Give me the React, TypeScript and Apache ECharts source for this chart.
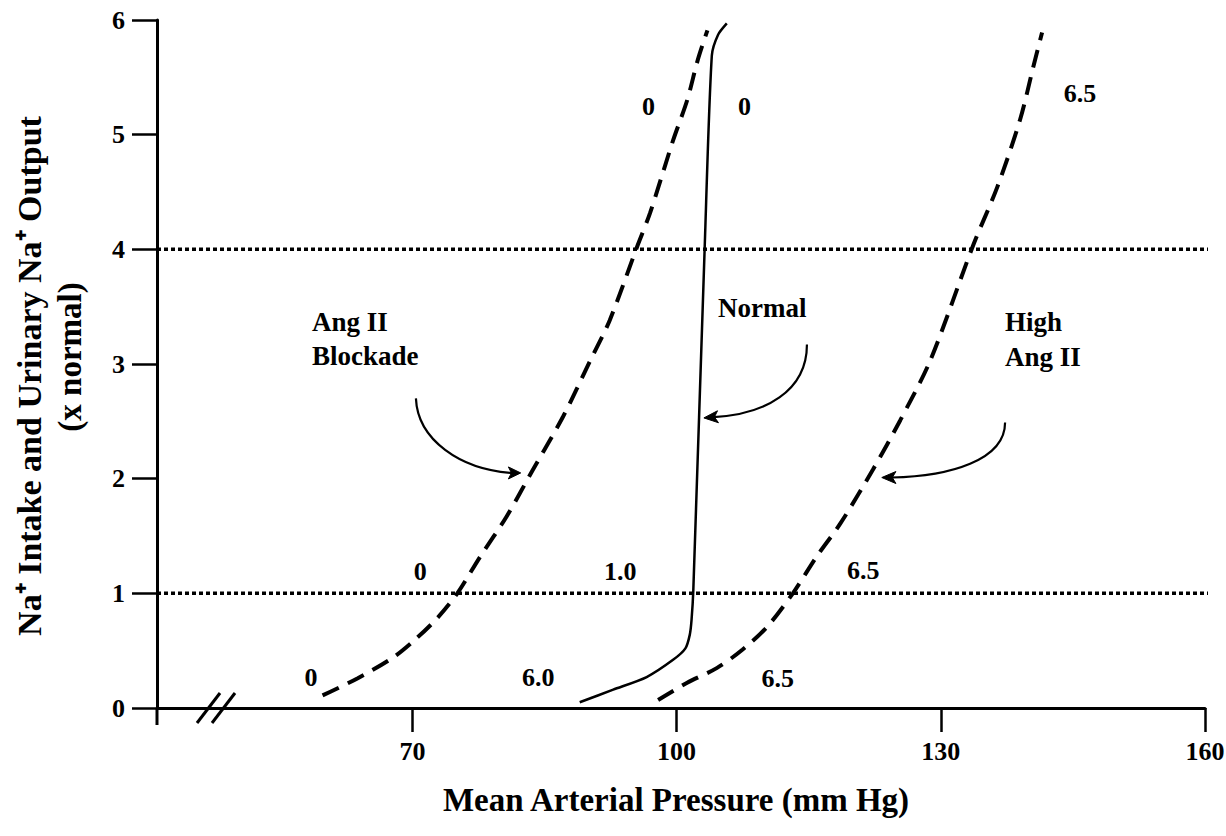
import React, { useEffect, useRef } from 'react';
import * as echarts from 'echarts';

const FONT = '"Liberation Serif", "Times New Roman", Times, serif';

// Axis ranges and ticks
const xMin = 41;
const xMax = 160;
const xTicks = [70, 100, 130, 160];
const yTicksMax = 6;
const refLevels = [1, 4];

// Curves: [mean arterial pressure, Na+ intake / output (x normal)]
const angBlockade = [
  [59.8, 0.11], [63.8, 0.26], [67.8, 0.44], [70.5, 0.61], [72.9, 0.79], [75.1, 1.0],
  [77.7, 1.32], [80.7, 1.67], [83.7, 2.08], [87.1, 2.54], [90.2, 3.03], [92.4, 3.38],
  [95.6, 4.04], [97.0, 4.32], [99.6, 4.95], [101.2, 5.3], [102.4, 5.65], [103.5, 5.91],
];
const normalCurve = [
  [89.0, 0.05], [92.8, 0.16], [96.6, 0.27], [99.6, 0.42], [101.0, 0.52], [101.5, 0.64],
  [101.7, 0.77], [101.9, 1.03], [103.2, 4.04], [104.0, 5.69], [104.7, 5.87], [105.7, 5.97],
];
const highAngII = [
  [97.9, 0.07], [101.2, 0.22], [104.6, 0.35], [107.5, 0.51], [110.3, 0.71], [113.2, 1.0],
  [115.9, 1.32], [118.6, 1.61], [122.3, 2.08], [125.4, 2.51], [128.8, 3.03], [133.7, 4.04],
  [136.4, 4.54], [139.0, 5.13], [140.5, 5.59], [141.5, 5.89],
];

// Value annotations next to the curves
const valueTexts = ['0', '6.0', '0', '1.0', '6.5', '6.5', '0', '0', '6.5'];
const valuePos = [
  [58.5, 0.27], [84.3, 0.27], [70.9, 1.19], [93.6, 1.19], [121.2, 1.2],
  [111.5, 0.26], [96.8, 5.25], [107.7, 5.25], [145.8, 5.36],
];

// Curve names
const nameTexts = ['Ang II', 'Blockade', 'Normal', 'High', 'Ang II'];
const namePos = [[58.6, 3.37], [58.6, 3.07], [104.7, 3.49], [137.3, 3.37], [137.3, 3.06]];

// Curved arrows: start, control 1, control 2, end (head base), tip
const arrows = [
  [70.4, 2.7, 70.6, 2.34, 75.4, 2.08, 80.9, 2.05, 82.3, 2.05],
  [114.8, 3.17, 114.8, 2.76, 110.0, 2.56, 104.7, 2.54, 103.1, 2.53],
  [137.3, 2.49, 137.3, 2.16, 131.0, 2.02, 124.9, 2.01, 123.3, 2.01],
];

const breakAt = [[47.7, 0]];

const xTitle = 'Mean Arterial Pressure (mm Hg)';
const yTitle1 = 'Na\u207A Intake and Urinary Na\u207A Output';
const yTitle2 = '(x normal)';

export default function App() {
  const ref = useRef<HTMLDivElement>(null);

  useEffect(() => {
    document.body.style.margin = '0';
    const chart = echarts.init(ref.current as HTMLDivElement, undefined, { renderer: 'svg' });

    const dashed = { color: '#000', width: 4, type: [18, 10] as any };

    const option: any = {
      animation: false,
      backgroundColor: '#fff',
      grid: {
        left: 157,
        right: 21,
        top: 20,
        bottom: 128,
        containLabel: false,
        outerBoundsMode: 'none',
      },
      xAxis: {
        type: 'value',
        min: xMin,
        max: xMax,
        axisLine: { show: true, onZero: false, lineStyle: { color: '#000', width: 3 } },
        axisTick: {
          show: true,
          customValues: xTicks,
          length: 24,
          inside: false,
          lineStyle: { color: '#000', width: 2.5 },
        },
        axisLabel: {
          customValues: xTicks,
          margin: 30,
          color: '#000',
          fontSize: 26,
          fontWeight: 'bold',
          fontFamily: FONT,
        },
        splitLine: { show: false },
      },
      yAxis: {
        type: 'value',
        min: 0,
        max: yTicksMax,
        interval: 1,
        axisLine: { show: true, onZero: false, lineStyle: { color: '#000', width: 3 } },
        axisTick: { show: true, length: 25, lineStyle: { color: '#000', width: 2.5 } },
        axisLabel: {
          margin: 32,
          color: '#000',
          fontSize: 26,
          fontWeight: 'bold',
          fontFamily: FONT,
        },
        splitLine: { show: false },
      },
      graphic: [
        {
          type: 'text',
          x: 676,
          y: 800,
          style: {
            text: xTitle,
            fill: '#000',
            fontSize: 33,
            fontWeight: 'bold',
            fontFamily: FONT,
            align: 'center',
            verticalAlign: 'middle',
          },
        },
        {
          type: 'text',
          x: 29,
          y: 376,
          rotation: Math.PI / 2,
          style: {
            text: yTitle1,
            fill: '#000',
            fontSize: 34,
            fontWeight: 'bold',
            fontFamily: FONT,
            align: 'center',
            verticalAlign: 'middle',
          },
        },
        {
          type: 'text',
          x: 70,
          y: 357,
          rotation: Math.PI / 2,
          style: {
            text: yTitle2,
            fill: '#000',
            fontSize: 33,
            fontWeight: 'bold',
            fontFamily: FONT,
            align: 'center',
            verticalAlign: 'middle',
          },
        },
      ],
      series: [
        ...refLevels.map((lv) => ({
          type: 'line',
          data: [[xMin, lv], [162, lv]],
          symbol: 'none',
          clip: false,
          silent: true,
          lineStyle: { color: '#000', width: 3.5, type: [4, 3] },
          z: 1,
        })),
        {
          name: 'Ang II Blockade',
          type: 'line',
          data: angBlockade,
          symbol: 'none',
          smooth: 0.3,
          lineStyle: dashed,
          z: 3,
        },
        {
          name: 'Normal',
          type: 'line',
          data: normalCurve,
          symbol: 'none',
          smooth: 0.25,
          lineStyle: { color: '#000', width: 2.5 },
          z: 3,
        },
        {
          name: 'High Ang II',
          type: 'line',
          data: highAngII,
          symbol: 'none',
          smooth: 0.3,
          lineStyle: dashed,
          z: 3,
        },
        {
          type: 'custom',
          coordinateSystem: 'cartesian2d',
          data: valuePos,
          clip: false,
          silent: true,
          z: 5,
          renderItem: (params: any, api: any) => {
            const p = api.coord([api.value(0), api.value(1)]);
            return {
              type: 'text',
              x: p[0],
              y: p[1],
              style: {
                text: valueTexts[params.dataIndex],
                fill: '#000',
                fontSize: 26,
                fontWeight: 'bold',
                fontFamily: FONT,
                align: 'center',
                verticalAlign: 'middle',
              },
            };
          },
        },
        {
          type: 'custom',
          coordinateSystem: 'cartesian2d',
          data: namePos,
          clip: false,
          silent: true,
          z: 5,
          renderItem: (params: any, api: any) => {
            const p = api.coord([api.value(0), api.value(1)]);
            return {
              type: 'text',
              x: p[0],
              y: p[1],
              style: {
                text: nameTexts[params.dataIndex],
                fill: '#000',
                fontSize: 27,
                fontWeight: 'bold',
                fontFamily: FONT,
                align: 'left',
                verticalAlign: 'middle',
              },
            };
          },
        },
        {
          type: 'custom',
          coordinateSystem: 'cartesian2d',
          data: arrows,
          clip: false,
          silent: true,
          z: 5,
          renderItem: (params: any, api: any) => {
            const pt = (i: number) => api.coord([api.value(i), api.value(i + 1)]);
            const s = pt(0);
            const c1 = pt(2);
            const c2 = pt(4);
            const e = pt(6);
            const t = pt(8);
            const dx = t[0] - e[0];
            const dy = t[1] - e[1];
            const len = Math.sqrt(dx * dx + dy * dy) || 1;
            const nx = -dy / len;
            const ny = dx / len;
            const hw = 6;
            return {
              type: 'group',
              children: [
                {
                  type: 'bezierCurve',
                  shape: {
                    x1: s[0], y1: s[1],
                    cpx1: c1[0], cpy1: c1[1],
                    cpx2: c2[0], cpy2: c2[1],
                    x2: e[0] + dx * 0.3, y2: e[1] + dy * 0.3,
                  },
                  style: { stroke: '#000', lineWidth: 2.2, fill: null },
                },
                {
                  type: 'polygon',
                  shape: {
                    points: [
                      [t[0], t[1]],
                      [e[0] + nx * hw, e[1] + ny * hw],
                      [e[0] + dx * 0.25, e[1] + dy * 0.25],
                      [e[0] - nx * hw, e[1] - ny * hw],
                    ],
                  },
                  style: { fill: '#000', stroke: '#000', lineWidth: 1 },
                },
              ],
            };
          },
        },
        {
          type: 'custom',
          coordinateSystem: 'cartesian2d',
          data: breakAt,
          clip: false,
          silent: true,
          z: 6,
          renderItem: (params: any, api: any) => {
            const p = api.coord([api.value(0), api.value(1)]);
            const o = api.coord([xMin, 0]);
            return {
              type: 'group',
              children: [
                {
                  type: 'line',
                  shape: { x1: p[0] - 19, y1: p[1] + 15, x2: p[0] + 4, y2: p[1] - 15 },
                  style: { stroke: '#000', lineWidth: 3 },
                },
                {
                  type: 'line',
                  shape: { x1: p[0] - 4, y1: p[1] + 15, x2: p[0] + 19, y2: p[1] - 15 },
                  style: { stroke: '#000', lineWidth: 3 },
                },
                {
                  type: 'line',
                  shape: { x1: o[0], y1: o[1], x2: o[0], y2: o[1] + 17 },
                  style: { stroke: '#000', lineWidth: 3 },
                },
              ],
            };
          },
        },
      ],
    };

    chart.setOption(option);
    return () => chart.dispose();
  }, []);

  return (
    <div
      ref={ref}
      style={{ position: 'absolute', left: 0, top: 0, width: 1226, height: 836 }}
    />
  );
}
